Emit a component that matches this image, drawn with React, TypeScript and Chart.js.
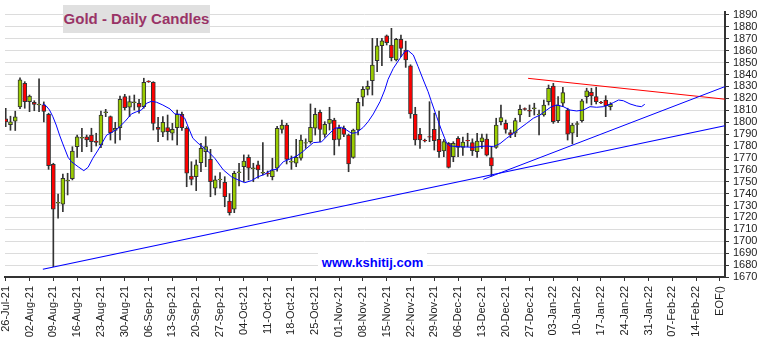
import React, { useEffect, useRef } from "react";
import { Chart, registerables } from "chart.js";

Chart.register(...registerables);

// ---- tick labels (x = trading-day index, 5 per week) ----
const xTickIndex = [0, 5, 10, 15, 20, 25, 30, 35, 40, 45, 50, 55, 60, 65, 70, 75, 80, 85, 90, 95, 100, 105, 110, 115, 120, 125, 130, 135, 140, 145, 150];
const xTickLabels = [
  "26-Jul-21", "02-Aug-21", "09-Aug-21", "16-Aug-21", "23-Aug-21", "30-Aug-21", "06-Sep-21", "13-Sep-21",
  "20-Sep-21", "27-Sep-21", "04-Oct-21", "11-Oct-21", "18-Oct-21", "25-Oct-21", "01-Nov-21", "08-Nov-21",
  "15-Nov-21", "22-Nov-21", "29-Nov-21", "06-Dec-21", "13-Dec-21", "20-Dec-21", "27-Dec-21", "03-Jan-22",
  "10-Jan-22", "17-Jan-22", "24-Jan-22", "31-Jan-22", "07-Feb-22", "14-Feb-22", "EOF()",
];
const yTicks = [1670, 1680, 1690, 1700, 1710, 1720, 1730, 1740, 1750, 1760, 1770, 1780, 1790, 1800, 1810, 1820, 1830, 1840, 1850, 1860, 1870, 1880, 1890];

// ---- daily candles (index 0 = 26-Jul-21) ----
const opens = [
  1802.7, 1798, 1800.8, 1812.8, 1832.7, 1817.2, 1816.7, 1814.4, 1814.6, 1806.6,
  1764.6, 1731.9, 1731.1, 1750.6, 1752.6, 1779.4, 1786.5, 1787.6, 1789.2, 1784.2,
  1780.8, 1808, 1804.6, 1793, 1795.4, 1821.4, 1812.5, 1816.4, 1815.9, 1813,
  1834.4, 1833.5, 1795.7, 1791.5, 1795.4, 1790.7, 1795.4, 1806.6, 1794.9, 1754.8,
  1754.2, 1766, 1775.2, 1768.8, 1744.5, 1751.6, 1749.5, 1733.8, 1727, 1757.5,
  1762.6, 1770.5, 1761, 1764.1, 1757.2, 1757.3, 1754.2, 1761.3, 1794, 1797.6,
  1766.5, 1765.5, 1769.7, 1782.3, 1783.6, 1794.9, 1808.3, 1789.8, 1799, 1801.8,
  1785.6, 1794.9, 1789.2, 1770.5, 1793.4, 1820.9, 1827.6, 1834.8, 1851.6, 1864.2,
  1872.4, 1864.8, 1852.2, 1869.6, 1860.6, 1847.4, 1806.6, 1789.8, 1784.8, 1788,
  1794, 1785.6, 1775.8, 1782.3, 1771, 1786.5, 1778.9, 1784.8, 1782.8, 1775.2,
  1783.6, 1785.9, 1770.2, 1778.9, 1800.4, 1799, 1791.2, 1790.7, 1806, 1811.4,
  1809.9, 1811.4, 1806.2, 1806, 1817.2, 1830.4, 1801.3, 1815.9, 1810.2, 1790.7,
  1798.2, 1801.3, 1821.4, 1825.1, 1821.4, 1816.7, 1818.6, 1813,
];
const highs = [
  1811.7, 1805, 1809.2, 1837.2, 1834, 1822.8, 1818, 1836.3, 1817, 1807.5,
  1765.5, 1739.7, 1756.5, 1757.1, 1779.4, 1789.2, 1794.9, 1789.2, 1794.9, 1790.7,
  1809.4, 1810.8, 1805.2, 1799.9, 1822, 1823.4, 1822, 1822.8, 1819.2, 1836.9,
  1834.8, 1834, 1804.1, 1804.6, 1806, 1799, 1810.2, 1808.4, 1796.2, 1766.8,
  1768.3, 1782.3, 1787.8, 1777.2, 1754.8, 1757.6, 1754.2, 1740, 1758.8, 1765.5,
  1772.5, 1772.5, 1765.5, 1767.4, 1782.8, 1759, 1769.7, 1796.6, 1801.8, 1799,
  1771.6, 1785.6, 1789.2, 1786, 1815.3, 1811.7, 1810.2, 1800.4, 1812.5, 1803.3,
  1797.6, 1796.8, 1790, 1794.2, 1820, 1829.8, 1834.6, 1870.4, 1870.4, 1870.4,
  1873.2, 1878.8, 1870.4, 1873.2, 1868, 1848.2, 1812.5, 1794.9, 1785.8, 1817.2,
  1807.5, 1809.4, 1785.5, 1783, 1783.6, 1788, 1787.5, 1790.7, 1786, 1790.7,
  1790, 1790, 1778.9, 1803.3, 1814.4, 1801.8, 1793.4, 1803.3, 1814.4, 1812,
  1814.4, 1815.9, 1810.2, 1818.6, 1831.2, 1832.6, 1821.4, 1829.3, 1811.7, 1799,
  1800.4, 1819.2, 1828.5, 1828.5, 1829.3, 1817.5, 1822.2, 1816.4,
];
const lows = [
  1796.2, 1793.2, 1793, 1811.4, 1811.7, 1808.8, 1809.6, 1808.8, 1800.2, 1760.4,
  1678.7, 1719.3, 1724.8, 1738.9, 1751.5, 1770.5, 1775.2, 1779.4, 1775.2, 1780,
  1778.6, 1804.6, 1785, 1782.3, 1785, 1810.2, 1804.6, 1810.2, 1807.5, 1811.7,
  1833.4, 1793.4, 1783.6, 1787.8, 1785, 1785, 1780.8, 1793, 1745.8, 1747.3,
  1742.5, 1758.4, 1762.6, 1737.4, 1738.9, 1744.5, 1729, 1722, 1724, 1746.5,
  1750, 1751.5, 1750, 1752.9, 1755.7, 1754.5, 1751.5, 1758.8, 1790.7, 1764.9,
  1760.4, 1762.6, 1768, 1778, 1782.3, 1789.2, 1783.6, 1787.3, 1793.4, 1772.5,
  1780, 1787.8, 1758.4, 1769.7, 1789.2, 1813.6, 1822.8, 1822.8, 1842.4, 1847.4,
  1864.8, 1851.4, 1851.4, 1855, 1846, 1803.3, 1780.8, 1778, 1783.4, 1783.6,
  1776.6, 1770.5, 1771, 1761.5, 1766.8, 1771, 1772, 1779.4, 1772, 1770.5,
  1778, 1771.6, 1754.8, 1778, 1797.6, 1790.7, 1787, 1787.8, 1800.4, 1810,
  1804.6, 1806, 1789.2, 1805, 1814.4, 1799, 1799.6, 1813, 1785, 1781.7,
  1787.8, 1800, 1816, 1814.4, 1815.3, 1815.5, 1804.6, 1810.2,
];
const closes = [
  1800.2, 1800.2, 1804.4, 1835.5, 1817.2, 1822, 1815, 1815.2, 1809, 1763.5,
  1726.9, 1732.7, 1752.9, 1751.4, 1775.8, 1787.6, 1787.2, 1785, 1783.6, 1783.1,
  1806, 1808.6, 1791.2, 1794.9, 1819.2, 1812.2, 1817.2, 1817, 1812.5, 1833.5,
  1833.8, 1799, 1794, 1799.9, 1792, 1794, 1806.6, 1795.4, 1757.1, 1752,
  1764.1, 1778.1, 1779.4, 1750, 1751.5, 1752.3, 1737.4, 1724, 1757, 1758.2,
  1767.4, 1761.3, 1761.6, 1759.9, 1757.9, 1756.6, 1759.3, 1794.9, 1797.6, 1768.8,
  1767.2, 1770.5, 1785, 1782.9, 1795.7, 1806.6, 1794, 1798.2, 1802.4, 1785,
  1794.9, 1789.8, 1764.9, 1793.4, 1816.7, 1827.6, 1830.1, 1848, 1864, 1868.2,
  1866.7, 1854.1, 1869.6, 1862, 1852.2, 1806.9, 1785, 1785, 1784.2, 1787.5,
  1784.5, 1775.2, 1783.6, 1762.1, 1782.3, 1778.9, 1783.3, 1784.2, 1776, 1784.2,
  1786.9, 1772.2, 1763.2, 1797.6, 1803.8, 1794, 1789.2, 1801.3, 1810.8, 1810.8,
  1809.3, 1812, 1806.8, 1814.4, 1828.5, 1800.4, 1814.4, 1824.8, 1790, 1797.6,
  1798.8, 1818, 1826.4, 1822, 1817.2, 1816.1, 1813.6, 1815,
];

// ---- moving-average line: [index, value] ----
const movingAverage: [number, number][] = [
  [7.8, 1815.3], [8.5, 1813.6], [9.2, 1810.2], [9.9, 1804.6], [10.6, 1797.6], [11.3, 1789.2], [12, 1781.7],
  [13.1, 1770.5], [13.8, 1766.8], [15.2, 1762.6], [16.4, 1759.3], [17.3, 1762.1], [18.3, 1769.7], [19.4, 1776.6],
  [20.4, 1783.6], [21.2, 1789.2], [22.2, 1791.2], [23.6, 1794.9], [25, 1800.4], [26.4, 1806.9], [27.5, 1808.8],
  [28.5, 1810.2], [29.6, 1815.9], [30.6, 1817.5], [31.7, 1816.7], [33, 1814.4], [34.5, 1811.1], [35.5, 1806.9],
  [36.6, 1806.6], [37.6, 1803.3], [38.3, 1796.2], [39.3, 1786.5], [40.4, 1782.3], [42.2, 1776.6], [43.9, 1769.7],
  [45.7, 1759.9], [47.4, 1754.2], [48.8, 1751.5], [50.2, 1749.2], [51.6, 1750.9], [53, 1754.2], [54.4, 1756.2],
  [55.8, 1759.9], [56.9, 1760.4], [58.3, 1766.8], [59.7, 1769.1], [61.1, 1771.6], [62.3, 1775], [63.2, 1778.1],
  [64.6, 1782.8], [66.3, 1783.4], [67.7, 1789.2], [69.1, 1794.9], [70.5, 1795.7], [71.6, 1793.4], [72.6, 1790.7],
  [73.7, 1791.2], [75.1, 1795.7], [76.1, 1800.4], [77.2, 1806.9], [78.6, 1817.2], [79.6, 1827], [80.3, 1836],
  [81.4, 1845.2], [82.8, 1853.6], [83.8, 1859.2], [84.5, 1860.1], [85.6, 1856.4], [86.6, 1846.6], [87.7, 1835.4],
  [88.7, 1825.6], [89.4, 1817.2], [90.5, 1804.6], [91.5, 1793.4], [92.6, 1782.3], [93.3, 1780], [95.4, 1779.4],
  [98.2, 1778.9], [101, 1780], [102.4, 1779.4], [103.8, 1782], [105.2, 1786.5], [106.6, 1790.7], [108, 1794.9],
  [109.4, 1799], [110.8, 1803.3], [112.2, 1806], [113.6, 1810.2], [114.6, 1813], [115.7, 1814.4], [117.1, 1813],
  [118.5, 1810.2], [119.9, 1809.4], [121.3, 1810.2], [122.7, 1813], [124.1, 1812.5], [125.5, 1813], [126.9, 1815],
  [127.6, 1816.4], [128.7, 1818.6], [129.7, 1818], [131.1, 1815.3], [132.5, 1813.6], [133.5, 1813], [134.2, 1815],
];

// ---- trend lines: [index, value] end points ----
const longSupport: [number, number][] = [[7.8, 1676.5], [151, 1797]];
const shortSupport: [number, number][] = [[100.3, 1752], [151, 1829.8]];
const resistance: [number, number][] = [[109.7, 1836.8], [151, 1819.3]];

const FONT = '"Liberation Sans", Arial, sans-serif';
const toXY = (pts: [number, number][]) => pts.map(([x, y]) => ({ x, y }));

export default function App() {
  const ref = useRef<HTMLCanvasElement>(null);

  useEffect(() => {
    const canvas = ref.current;
    if (!canvas) return;
    const idx = opens.map((_, i) => i);
    const bodies = idx.map((i) => ({ x: i, y: [opens[i], closes[i]] }));
    const wicks = idx.map((i) => ({ x: i, y: [lows[i], highs[i]] }));
    const bodyColors = idx.map((i) => (closes[i] >= opens[i] ? "#99cc00" : "#ff0000"));

    const lineBase = { type: "line", pointRadius: 0, fill: false, tension: 0 } as any;

    const chart = new Chart(canvas, {
      type: "bar",
      data: {
        datasets: [
          { ...lineBase, data: toXY(movingAverage), borderColor: "#0000ff", borderWidth: 1, order: -1 },
          { ...lineBase, data: toXY(longSupport), borderColor: "#0000ff", borderWidth: 1.1, order: -2 },
          { ...lineBase, data: toXY(shortSupport), borderColor: "#0000ff", borderWidth: 1, order: -2 },
          { ...lineBase, data: toXY(resistance), borderColor: "#ff0000", borderWidth: 1, order: -2 },
          {
            type: "bar",
            data: bodies as any,
            backgroundColor: bodyColors,
            borderColor: "#333333",
            borderWidth: 1,
            borderSkipped: false,
            barThickness: 4,
            grouped: false,
            order: 1,
          },
          {
            type: "bar",
            data: wicks as any,
            backgroundColor: "#333333",
            borderWidth: 0,
            barThickness: 1,
            grouped: false,
            order: 2,
          },
        ] as any,
      },
      options: {
        responsive: false,
        animation: false,
        layout: { padding: { left: 5, top: 12, right: 0, bottom: 0 } },
        plugins: { legend: { display: false }, tooltip: { enabled: false }, title: { display: false } },
        scales: {
          x: {
            type: "linear",
            min: -0.15,
            max: 151.05,
            offset: false,
            afterBuildTicks: (axis: any) => {
              axis.ticks = xTickIndex.map((v) => ({ value: v }));
            },
            afterFit: (scale: any) => {
              scale.height = 67;
              scale.paddingLeft = 0;
              scale.paddingRight = 0;
            },
            ticks: {
              autoSkip: false,
              minRotation: 90,
              maxRotation: 90,
              padding: 5,
              color: "#222",
              font: { family: FONT, size: 11 },
              callback: (v: any) => {
                const k = xTickIndex.indexOf(Number(v));
                return k >= 0 ? xTickLabels[k] : "";
              },
            },
            grid: { display: true, drawOnChartArea: false, tickColor: "#333", tickLength: 4, offset: false },
            border: { display: true, color: "#333", width: 2 },
          },
          y: {
            type: "linear",
            position: "right",
            min: 1670,
            max: 1892.5,
            afterBuildTicks: (axis: any) => {
              axis.ticks = yTicks.map((v) => ({ value: v }));
            },
            afterFit: (scale: any) => {
              scale.width = 38;
              scale.paddingTop = 0;
              scale.paddingBottom = 0;
            },
            ticks: {
              autoSkip: false,
              padding: 4,
              color: "#222",
              font: { family: FONT, size: 11 },
              callback: (v: any) => String(v),
            },
            grid: { color: "#dcdcdc", lineWidth: 1, tickColor: "#333", tickLength: 4 },
            border: { display: true, color: "#333", width: 2 },
          },
        },
      } as any,
    });
    return () => chart.destroy();
  }, []);

  return (
    <div style={{ position: "absolute", left: 0, top: 0, width: 763, height: 344, background: "#fff" }}>
      <canvas ref={ref} width={763} height={344} style={{ display: "block" }} />
      <div
        style={{
          position: "absolute",
          left: 63,
          top: 5,
          width: 147,
          height: 28,
          background: "#e0e0e0",
          color: "#993366",
          fontFamily: FONT,
          fontWeight: "bold",
          fontSize: 15,
          lineHeight: "28px",
          textAlign: "center",
          whiteSpace: "nowrap",
        }}
      >
        Gold - Daily Candles
      </div>
      <div
        style={{
          position: "absolute",
          left: 318,
          top: 253,
          width: 109,
          height: 19,
          background: "#fff",
          color: "#0000ff",
          fontFamily: FONT,
          fontWeight: "bold",
          fontSize: 13,
          lineHeight: "19px",
          textAlign: "center",
          whiteSpace: "nowrap",
        }}
      >
        www.kshitij.com
      </div>
    </div>
  );
}
